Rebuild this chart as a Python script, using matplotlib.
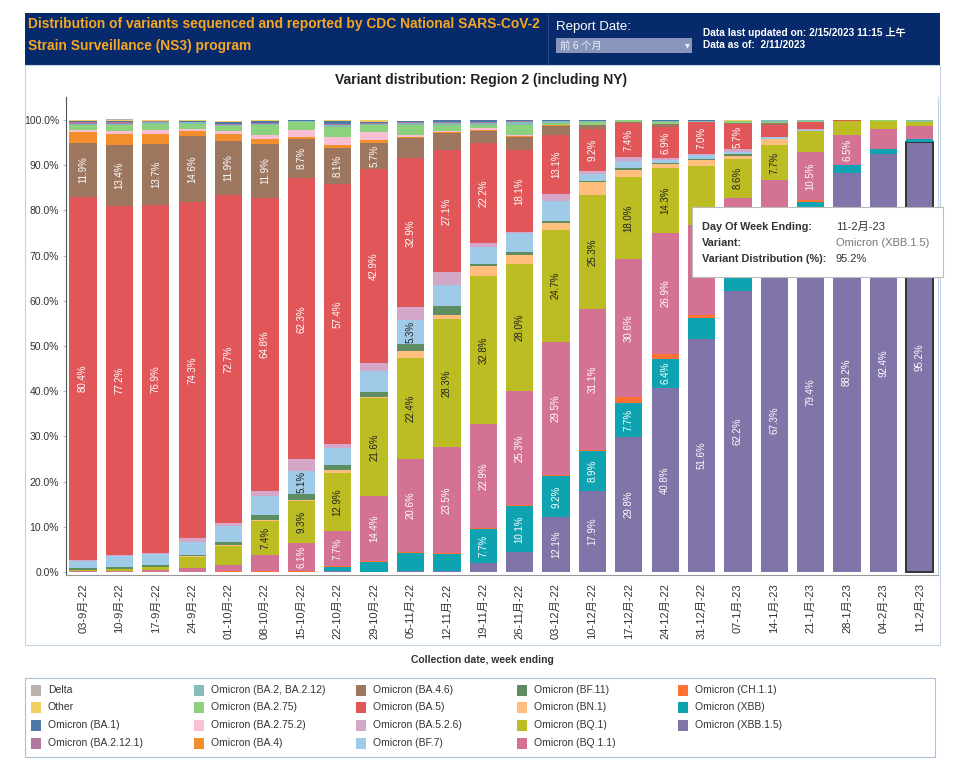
import matplotlib
matplotlib.use("Agg")
import matplotlib.pyplot as plt
from matplotlib.patches import Rectangle

W, H = 960, 763
plt.rcParams['font.family'] = ['Liberation Sans', 'Noto Sans CJK SC', 'DejaVu Sans']

weeks = ["03-9月-22", "10-9月-22", "17-9月-22", "24-9月-22", "01-10月-22", "08-10月-22",
         "15-10月-22", "22-10月-22", "29-10月-22", "05-11月-22", "12-11月-22", "19-11月-22",
         "26-11月-22", "03-12月-22", "10-12月-22", "17-12月-22", "24-12月-22", "31-12月-22",
         "07-1月-23", "14-1月-23", "21-1月-23", "28-1月-23", "04-2月-23", "11-2月-23"]

# percentages per week (bottom of the stack first)
xbb15 = [0, 0, 0, 0, 0, 0, 0, 0.2, 0, 0.3, 0.3, 1.9, 4.5, 12.1, 17.9, 29.8, 40.8, 51.6, 62.2, 67.3, 79.4, 88.2, 92.4, 95.2]
xbb = [0, 0, 0.1, 0.1, 0.1, 0.1, 0, 1.0, 2.3, 3.8, 3.7, 7.7, 10.1, 9.2, 8.9, 7.7, 6.4, 4.7, 3.3, 1.5, 2.5, 1.8, 1.3, 0.6]
ch111 = [0, 0, 0, 0, 0.2, 0.1, 0.3, 0.1, 0.1, 0.3, 0.2, 0.2, 0.2, 0.2, 0.2, 1.2, 1.0, 0.5, 0.4, 0.3, 0.5, 0.1, 0, 0]
bq11 = [0.2, 0.2, 0.3, 0.8, 1.2, 3.6, 6.1, 7.7, 14.4, 20.6, 23.5, 22.9, 25.3, 29.5, 31.1, 30.6, 26.9, 20.0, 16.9, 17.6, 10.5, 6.5, 4.3, 2.9]
bq1 = [0.3, 0.5, 0.8, 2.5, 4.2, 7.4, 9.3, 12.9, 21.6, 22.4, 28.3, 32.8, 28.0, 24.7, 25.3, 18.0, 14.3, 13.0, 8.6, 7.7, 4.6, 3.2, 1.8, 0.9]
bn1 = [0, 0, 0, 0.2, 0.3, 0.2, 0.3, 0.6, 0.4, 1.5, 0.9, 2.1, 2.1, 1.5, 2.9, 1.7, 0.9, 1.3, 0.7, 1.3, 0, 0, 0, 0]
bf11 = [0.4, 0.4, 0.3, 0.2, 0.6, 1.3, 1.3, 1.1, 1.1, 1.5, 1.9, 0.6, 0.6, 0.4, 0.3, 0.3, 0.3, 0.2, 0.3, 0.2, 0, 0, 0, 0]
bf7 = [1.5, 2.4, 2.5, 2.8, 3.5, 4.2, 5.1, 3.9, 4.6, 5.3, 4.8, 3.8, 4.2, 4.6, 1.5, 1.6, 0.6, 0.9, 0.5, 0.4, 0.3, 0.1, 0, 0]
ba526 = [0.2, 0.3, 0.2, 0.9, 0.7, 1.1, 2.5, 0.9, 1.8, 2.9, 2.7, 0.7, 0.2, 1.5, 0.7, 1.0, 0.3, 0.3, 0.6, 0, 0.3, 0, 0, 0]
ba5 = [80.4, 77.2, 76.9, 74.3, 72.7, 64.8, 62.3, 57.4, 42.9, 32.9, 27.1, 22.2, 18.1, 13.1, 9.2, 7.4, 6.9, 7.0, 5.7, 2.7, 1.5, 0.1, 0, 0]
ba46 = [11.9, 13.4, 13.7, 14.6, 11.9, 11.9, 8.7, 8.1, 5.7, 4.6, 3.7, 2.7, 3.0, 1.8, 0.9, 0.2, 0.8, 0, 0.2, 0.3, 0, 0, 0, 0]
ba4 = [2.5, 2.6, 2.1, 1.1, 1.5, 1.1, 0.3, 0.5, 0.7, 0.2, 0.2, 0.3, 0.2, 0.2, 0.1, 0.1, 0, 0, 0, 0, 0, 0, 0, 0]
ba2752 = [0.4, 0.5, 1.0, 0.5, 0.7, 0.9, 1.7, 1.8, 1.8, 0.5, 0.3, 0.3, 0.3, 0, 0, 0, 0, 0, 0, 0, 0, 0, 0, 0]
ba275 = [1.2, 1.4, 1.3, 1.2, 1.1, 2.1, 1.7, 2.2, 1.5, 2.0, 1.3, 0.6, 2.2, 0.6, 0.6, 0.4, 0.3, 0, 0.3, 0.3, 0.2, 0, 0.2, 0.2]
ba2 = [0.2, 0.3, 0.3, 0.3, 0.3, 0.4, 0.3, 0.4, 0.2, 0.5, 0.5, 0.6, 0.5, 0.3, 0.3, 0, 0.3, 0.3, 0, 0.4, 0.2, 0, 0, 0.2]
ba2121 = [0.4, 0.4, 0.2, 0.1, 0.2, 0.1, 0, 0.3, 0.2, 0.2, 0.2, 0.2, 0.2, 0, 0, 0, 0, 0, 0, 0, 0, 0, 0, 0]
ba1 = [0.2, 0.2, 0.1, 0.3, 0.4, 0.6, 0.1, 0.7, 0.3, 0.4, 0.4, 0.4, 0.3, 0.3, 0.2, 0, 0.2, 0.2, 0, 0, 0, 0, 0, 0]
other = [0.2, 0.3, 0.2, 0.1, 0.2, 0.1, 0, 0.2, 0.4, 0, 0, 0, 0, 0, 0, 0, 0, 0, 0.3, 0, 0, 0, 0, 0]
delta = [0.1, 0.1, 0, 0, 0.1, 0, 0, 0, 0, 0, 0, 0, 0, 0, 0, 0, 0, 0, 0, 0, 0, 0, 0, 0]

# legend order (top of stack first)
names = ["Delta", "Other", "Omicron (BA.1)", "Omicron (BA.2.12.1)", "Omicron (BA.2, BA.2.12)",
         "Omicron (BA.2.75)", "Omicron (BA.2.75.2)", "Omicron (BA.4)", "Omicron (BA.4.6)",
         "Omicron (BA.5)", "Omicron (BA.5.2.6)", "Omicron (BF.7)", "Omicron (BF.11)",
         "Omicron (BN.1)", "Omicron (BQ.1)", "Omicron (BQ.1.1)", "Omicron (CH.1.1)",
         "Omicron (XBB)", "Omicron (XBB.1.5)"]
values = [delta, other, ba1, ba2121, ba2, ba275, ba2752, ba4, ba46, ba5, ba526, bf7, bf11,
          bn1, bq1, bq11, ch111, xbb, xbb15]
colors = ["#BAB0AC", "#F1CE63", "#4E79A7", "#B07AA1", "#86BCB6", "#8CD17D", "#FABFD2",
          "#F28E2B", "#9D7660", "#E15759", "#D4A6C8", "#A0CBE8", "#5F8D62", "#FFBE7D",
          "#BCBD22", "#D37295", "#FF7233", "#0FA3B1", "#8074A8"]
dark_text = {"Omicron (BQ.1)", "Omicron (BF.7)"}


def fx(x):
    return x / W


def fy(y):
    return 1 - y / H


fig = plt.figure(figsize=(9.6, 7.63), dpi=100)

# header band
fig.patches.append(Rectangle((fx(25), fy(65)), fx(915), 52 / H, transform=fig.transFigure,
                             facecolor="#062a6b", edgecolor="none", zorder=0))
fig.add_artist(plt.Line2D([fx(548), fx(548)], [fy(15), fy(64)], color="#2c4b85", lw=0.8))
fig.text(fx(28), fy(24), "Distribution of variants sequenced and reported by CDC National SARS-CoV-2",
         color="#F5A623", fontsize=9.9, fontweight="bold", va="center")
fig.text(fx(28), fy(46), "Strain Surveillance (NS3) program",
         color="#F5A623", fontsize=9.9, fontweight="bold", va="center")
fig.text(fx(556), fy(27), "Report Date:", color="white", fontsize=9.5, va="center")
fig.patches.append(Rectangle((fx(556), fy(53)), 136 / W, 15 / H, transform=fig.transFigure,
                             facecolor="#8796BA", edgecolor="none"))
fig.text(fx(560), fy(45.5), "前 6 个月", color="#e8ecf5", fontsize=7.5,
         family=['Noto Sans CJK SC', 'DejaVu Sans'], va="center")
fig.text(fx(685), fy(45.5), "▾", color="#e8ecf5", fontsize=7, family=['DejaVu Sans'], va="center")
fig.text(fx(703), fy(33), "Data last updated on: 2/15/2023 11:15 上午", color="white", fontsize=7.3,
         fontweight="bold", va="center")
fig.text(fx(703), fy(45), "Data as of:  2/11/2023", color="white", fontsize=7.3,
         fontweight="bold", va="center")

# chart panel
fig.patches.append(Rectangle((fx(25), fy(645)), fx(915), 580 / H, transform=fig.transFigure,
                             facecolor="none", edgecolor="#c5d2e2", lw=0.8))
fig.text(fx(481), fy(80), "Variant distribution: Region 2 (including NY)", ha="center", va="center",
         fontsize=10, fontweight="bold", color="#222222")

# tooltip area in pixels: labels under it stay hidden
tip = (692, 207, 943, 277)

ax = fig.add_axes([fx(66), fy(575), (938 - 66) / W, (575 - 97) / H])
x = list(range(len(weeks)))
stack = list(zip(names, values, colors))[::-1]
bottom = [0.0] * len(weeks)
for name, vals, col in stack:
    bars = ax.bar(x, vals, bottom=bottom, width=0.75, color=col, linewidth=0)
    tc = "#222222" if name in dark_text else "white"
    for i, v in enumerate(vals):
        if v < 5.0:
            continue
        ymid = bottom[i] + v / 2
        px = 83 + i * 36.38
        py = 572 - ymid * 4.52
        if px + 8 > tip[0] and tip[1] - 12 < py < tip[3] + 12:
            continue
        ax.text(i, ymid, "%.1f%%" % v, rotation=90, ha="center", va="center",
                fontsize=7, color=tc)
    if name == "Omicron (XBB.1.5)":
        bars[-1].set_edgecolor("#333333")
        bars[-1].set_linewidth(1.4)
    bottom = [b + v for b, v in zip(bottom, vals)]

ax.set_xlim(-0.47, len(weeks) - 0.5)
ax.set_ylim(-0.66, 105.1)
ax.set_yticks(range(0, 101, 10))
ax.set_yticklabels(["%.1f%%" % t for t in range(0, 101, 10)], fontsize=7.5, color="#333333")
ax.set_xticks(x)
ax.set_xticklabels(weeks, rotation=90, fontsize=8, color="#333333")
ax.tick_params(axis="y", length=2, color="#9ec3e0", pad=3)
ax.tick_params(axis="x", length=0, pad=6)
ax.spines["top"].set_visible(False)
ax.spines["right"].set_color("#c5d2e2")
ax.spines["left"].set_color("#555555")
ax.spines["bottom"].set_color("#999999")

fig.text(fx(482), fy(660), "Collection date, week ending", ha="center", va="center",
         fontsize=7.5, fontweight="bold", color="#333333")

# tooltip
fig.patches.append(Rectangle((fx(tip[0]), fy(tip[3])), (tip[2] - tip[0]) / W, (tip[3] - tip[1]) / H,
                             transform=fig.transFigure, facecolor="white", edgecolor="#bbbbbb",
                             lw=0.8, zorder=10))
tip_rows = [("Day Of Week Ending:", weeks[-1], "#333333"),
            ("Variant:", names[-1], "#777777"),
            ("Variant Distribution (%):", "%.1f%%" % xbb15[-1], "#333333")]
for k, (lab, val, vc) in enumerate(tip_rows):
    yy = fy(227 + k * 16)
    fig.text(fx(702), yy, lab, fontsize=7.8, fontweight="bold", color="#333333", va="center", zorder=11)
    fig.text(fx(836), yy, val, fontsize=8, color=vc, va="center", zorder=11)

# legend
fig.patches.append(Rectangle((fx(25), fy(757)), 910 / W, 79 / H, transform=fig.transFigure,
                             facecolor="none", edgecolor="#a9bfd6", lw=0.8))
col_x = [31, 194, 356, 517, 678]
row_y = [690, 707.5, 725, 743]
for idx, (name, col) in enumerate(zip(names, colors)):
    c, r = idx // 4, idx % 4
    fig.patches.append(Rectangle((fx(col_x[c]), fy(row_y[r] + 5.5)), 10 / W, 11 / H,
                                 transform=fig.transFigure, facecolor=col, edgecolor="none"))
    fig.text(fx(col_x[c] + 17), fy(row_y[r]), name, fontsize=7.5, color="#333333", va="center")

fig.savefig("out.png", dpi=100)
